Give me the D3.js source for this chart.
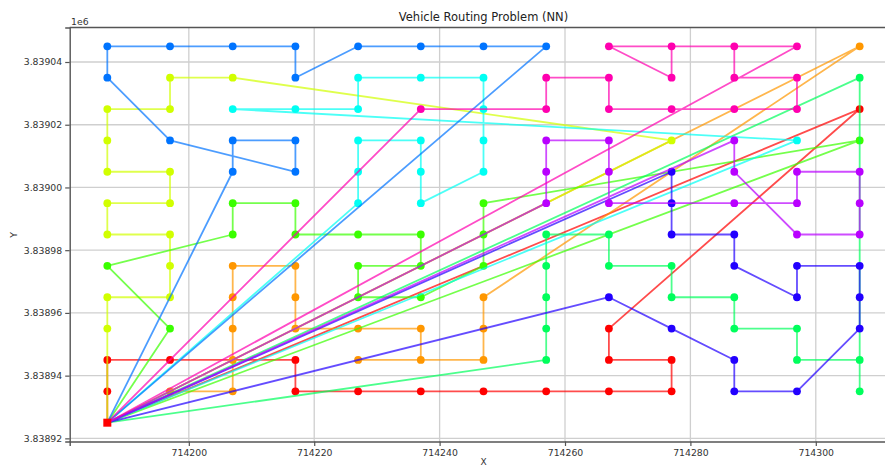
<!DOCTYPE html>
<html><head><meta charset="utf-8">
<script src="https://cdn.jsdelivr.net/npm/d3@7"></script>
<style>body{margin:0;background:#fff;} text{font-family:"DejaVu Sans",sans-serif;}</style>
</head><body><svg id="c" width="885" height="466"></svg>
<script>
// ---- data ----
const depot = [714187, 3838925];
const route0 = [[714187,3838935],[714187,3838945],[714197,3838945],[714217,3838945],[714217,3838935],[714227,3838935],[714237,3838935],[714247,3838935],[714257,3838935],[714267,3838935],[714277,3838935],[714277,3838945],[714267,3838945],[714267,3838955],[714307,3839025]];
const route1 = [[714197,3838935],[714207,3838935],[714207,3838945],[714207,3838955],[714207,3838965],[714207,3838975],[714217,3838975],[714217,3838965],[714217,3838955],[714227,3838955],[714237,3838955],[714237,3838945],[714227,3838945],[714247,3838945],[714247,3838955],[714247,3838965],[714307,3839045]];
const route2 = [[714187,3838955],[714187,3838965],[714197,3838965],[714197,3838975],[714197,3838985],[714187,3838985],[714187,3838995],[714197,3838995],[714197,3839005],[714187,3839005],[714187,3839015],[714187,3839025],[714197,3839025],[714197,3839035],[714207,3839035],[714277,3839015]];
const route3 = [[714197,3838955],[714187,3838975],[714207,3838985],[714207,3838995],[714217,3838995],[714217,3838985],[714227,3838985],[714237,3838985],[714237,3838975],[714227,3838975],[714227,3838965],[714237,3838965],[714247,3838975],[714247,3838985],[714247,3838995],[714307,3839015]];
const route4 = [[714257,3838945],[714257,3838955],[714257,3838965],[714257,3838975],[714257,3838985],[714267,3838985],[714267,3838975],[714277,3838975],[714277,3838965],[714287,3838965],[714287,3838955],[714297,3838955],[714297,3838945],[714307,3838945],[714307,3838935],[714307,3839035]];
const route5 = [[714227,3838995],[714227,3839005],[714227,3839015],[714237,3839015],[714237,3839005],[714237,3838995],[714247,3839005],[714247,3839015],[714247,3839025],[714247,3839035],[714237,3839035],[714227,3839035],[714227,3839025],[714217,3839025],[714207,3839025],[714297,3839015]];
const route6 = [[714207,3839005],[714207,3839015],[714217,3839015],[714217,3839005],[714197,3839015],[714187,3839035],[714187,3839045],[714197,3839045],[714207,3839045],[714217,3839045],[714217,3839035],[714227,3839045],[714237,3839045],[714247,3839045],[714257,3839045]];
const route7 = [[714277,3839005],[714277,3838995],[714277,3838985],[714287,3838985],[714287,3838975],[714297,3838965],[714297,3838975],[714307,3838975],[714307,3838965],[714307,3838955],[714297,3838935],[714287,3838935],[714287,3838945],[714277,3838955],[714267,3838965]];
const route8 = [[714257,3838995],[714257,3839005],[714257,3839015],[714267,3839015],[714267,3839005],[714267,3838995],[714287,3838995],[714297,3838995],[714297,3839005],[714307,3839005],[714307,3838995],[714307,3838985],[714297,3838985],[714287,3839005],[714287,3839015]];
const route9 = [[714237,3839025],[714257,3839025],[714257,3839035],[714267,3839035],[714267,3839025],[714277,3839025],[714287,3839025],[714297,3839025],[714297,3839035],[714287,3839035],[714287,3839045],[714277,3839045],[714277,3839035],[714267,3839045],[714297,3839045]];
const routes = [route0, route1, route2, route3, route4, route5, route6, route7, route8, route9];
const routeColors = ["#ff0000","#ff9700","#d1ff00","#3aff00","#00ff5c","#00fff3","#0074ff","#2200ff","#b900ff","#ff00af"];
const xTicks = [714200, 714220, 714240, 714260, 714280, 714300];
const xTickLabels = ["714200","714220","714240","714260","714280","714300"];
const yTicks = [3838920, 3838940, 3838960, 3838980, 3839000, 3839020, 3839040];
const yTickLabels = ["3.83892","3.83894","3.83896","3.83898","3.83900","3.83902","3.83904"];
const titleText = "Vehicle Routing Problem (NN)";

// ---- layout ----
const L = 69.7, R = 897.3, T = 27.5, B = 441.5;
const svg = d3.select("#c");
const x = d3.scaleLinear().domain([714181, 714313]).range([L, R]);
const y = d3.scaleLinear().domain([3838919, 3839051]).range([B, T]);

svg.append("defs").append("clipPath").attr("id","clip")
  .append("rect").attr("x",L).attr("y",T).attr("width",R-L).attr("height",B-T);

// grid
const grid = svg.append("g");
grid.selectAll(".gx").data(xTicks).enter().append("line")
  .attr("x1",d=>x(d)).attr("x2",d=>x(d)).attr("y1",T).attr("y2",B)
  .attr("stroke","#cfcfcf").attr("stroke-width",1.3);
grid.selectAll(".gy").data(yTicks).enter().append("line")
  .attr("y1",d=>y(d)).attr("y2",d=>y(d)).attr("x1",L).attr("x2",R)
  .attr("stroke","#cfcfcf").attr("stroke-width",1.3);

// routes
const plot = svg.append("g").attr("clip-path","url(#clip)");
const line = d3.line().x(d=>x(d[0])).y(d=>y(d[1]));
routes.forEach((r,i)=>{
  const pts = [depot].concat(r).concat([depot]);
  plot.append("path").attr("d",line(pts)).attr("fill","none")
    .attr("stroke",routeColors[i]).attr("stroke-width",1.8).attr("stroke-opacity",0.7)
    .attr("stroke-linejoin","round");
  plot.selectAll(null).data(r).enter().append("circle")
    .attr("cx",d=>x(d[0])).attr("cy",d=>y(d[1])).attr("r",3.9)
    .attr("fill",routeColors[i]);
});
plot.append("rect").attr("x",x(depot[0])-4).attr("y",y(depot[1])-4)
  .attr("width",8).attr("height",8).attr("fill","#ff0000");

// axes
const ax = svg.append("g").attr("transform",`translate(0,${B})`)
  .call(d3.axisBottom(x).tickValues(xTicks).tickFormat((d,i)=>xTickLabels[i]).tickSize(4.5).tickPadding(3));
const ay = svg.append("g").attr("transform",`translate(${L},0)`)
  .call(d3.axisLeft(y).tickValues(yTicks).tickFormat((d,i)=>yTickLabels[i]).tickSize(4.5).tickPadding(3));
[ax,ay].forEach(g=>{
  g.select(".domain").attr("stroke","#555").attr("stroke-width",1.4);
  g.selectAll(".tick line").attr("stroke","#555").attr("stroke-width",1.2);
  g.selectAll(".tick text").attr("fill","#333").style("font-size","9.3px").style("font-family","DejaVu Sans");
});
svg.append("line").attr("x1",L).attr("x2",R).attr("y1",T).attr("y2",T)
  .attr("stroke","#555").attr("stroke-width",1.4);

// texts
svg.append("text").attr("x",(L+R)/2).attr("y",20.5).attr("text-anchor","middle")
  .style("font-size","11.5px").attr("fill","#222").text(titleText);
svg.append("text").attr("x",71).attr("y",25).style("font-size","9.3px").attr("fill","#333").text("1e6");
svg.append("text").attr("x",(L+R)/2).attr("y",464.5).attr("text-anchor","middle")
  .style("font-size","9px").attr("fill","#333").text("X");
svg.append("text").attr("transform","translate(16.5,235) rotate(-90)").attr("text-anchor","middle")
  .style("font-size","9.3px").attr("fill","#333").text("Y");
</script></body></html>
